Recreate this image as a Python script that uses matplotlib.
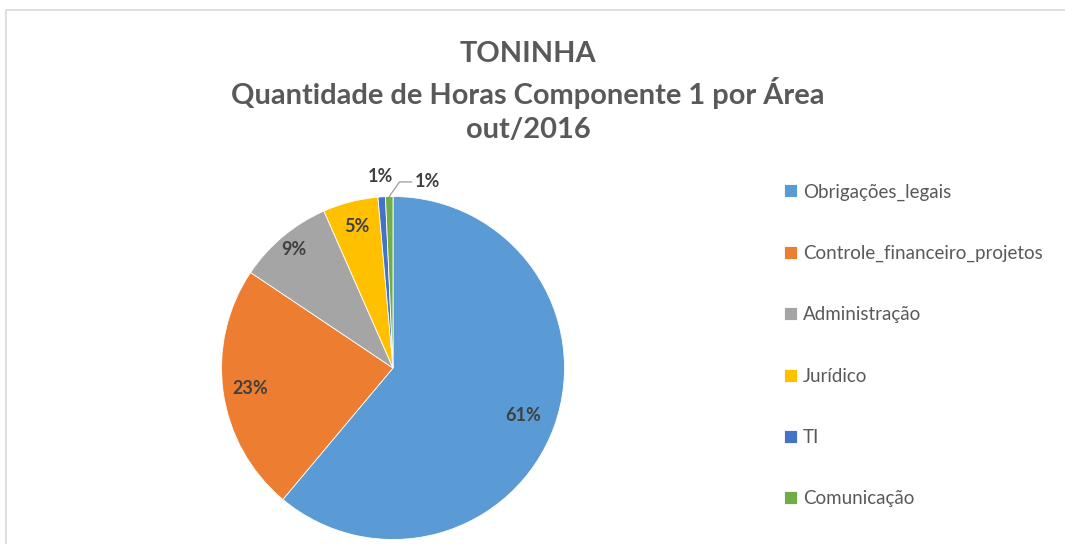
import matplotlib
matplotlib.use("Agg")
import matplotlib.pyplot as plt
import numpy as np
from matplotlib.patches import Rectangle

areas = ["Obrigações_legais", "Controle_financeiro_projetos", "Administração",
         "Jurídico", "TI", "Comunicação"]
shares = [61.1, 23.3, 9.0, 5.2, 0.7, 0.7]
colors = ["#5B9BD5", "#ED7D31", "#A5A5A5", "#FFC000", "#4472C4", "#70AD47"]
title_lines = ["TONINHA", "Quantidade de Horas Componente 1 por Área", "out/2016"]

plt.rcParams["font.family"] = ["Lato", "DejaVu Sans"]

W, H = 1065, 544
fig = plt.figure(figsize=(W / 100, H / 100), dpi=100)

# chart frame
fig.patches.append(Rectangle((6 / W, -0.05), 1.2, 1 - 10 / H + 0.05,
                             transform=fig.transFigure, fill=False,
                             edgecolor="#D9D9D9", linewidth=1.2))

cx, cy, r = 393, 368, 171.5
ax = fig.add_axes([(cx - r) / W, (H - cy - r) / H, 2 * r / W, 2 * r / H])

wedges, _ = ax.pie(shares, colors=colors, startangle=90, counterclock=False,
                   radius=1.0, wedgeprops=dict(edgecolor="white", linewidth=0.6),
                   frame=True)
ax.set_xlim(-1, 1); ax.set_ylim(-1, 1)
ax.axis("off")

label_dist = [0.81, 0.84, 0.9, 0.85, 1.12, None]
lab_kw = dict(fontsize=13, fontweight="bold", color="#404040", ha="center", va="center")
for w, s, d in zip(wedges, shares, label_dist):
    mid = np.deg2rad((w.theta1 + w.theta2) / 2)
    txt = f"{s:.0f}%"
    if d is None:
        x0, y0 = np.cos(mid), np.sin(mid)
        ax.plot([x0, x0 + 0.06, x0 + 0.13], [y0, 1.085, 1.085],
                color="#A6A6A6", lw=1, clip_on=False)
        ax.text(x0 + 0.15, 1.085, txt, **{**lab_kw, "ha": "left"}, clip_on=False)
    else:
        ax.text(d * np.cos(mid), d * np.sin(mid), txt, clip_on=False, **lab_kw)

fig.text(528 / W, 1 - 92 / H, "\n".join(title_lines), ha="center", va="center",
         fontsize=20.9, fontweight="bold", color="#595959", linespacing=1.39)

leg = fig.legend(wedges, areas, loc="upper left", bbox_to_anchor=(775 / W, 1 - 174 / H),
                 frameon=False, fontsize=13.5, labelspacing=2.36, handlelength=0.68,
                 handleheight=0.68, handletextpad=0.3, borderpad=0)
for t in leg.get_texts():
    t.set_color("#595959")

fig.savefig("out.png", dpi=100)
